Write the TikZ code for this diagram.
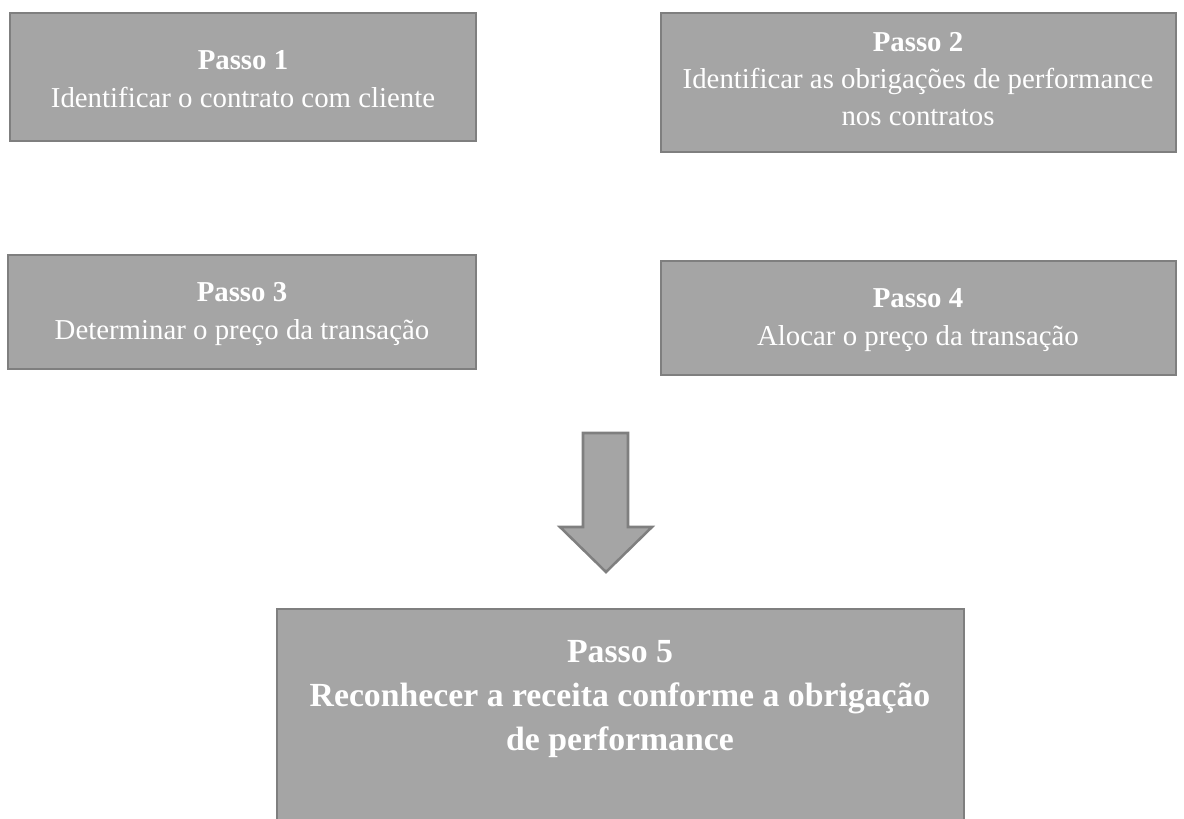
\documentclass[tikz,border=0pt]{standalone}
\usepackage{fontspec}
\setmainfont{Liberation Serif}
\usepackage{xcolor}
\usepackage{tikz}
\definecolor{stepfill}{RGB}{165,165,165}
\definecolor{stepline}{RGB}{127,127,127}

\begin{document}
\begin{tikzpicture}[x=0.025cm, y=-0.025cm,
    stepbox/.style={fill=stepfill, draw=stepline, line width=1.8pt},
    steptext/.style={text=white, align=center, font=\fontsize{20.5}{26.5}\selectfont},
    bigtext/.style={text=white, align=center, font=\fontsize{24}{31}\selectfont\bfseries}]
  \useasboundingbox (0,0) rectangle (1184,819);

  %% Top row
  \draw[stepbox] (10,13) rectangle (476,141);
  \node[steptext] (s1) at (243,79) {\textbf{Passo 1}\\Identificar o contrato com cliente};
  \draw[stepbox] (661,13) rectangle (1176,152);
  \node[steptext] (s2) at (918,79) {\textbf{Passo 2}\\Identificar as obrigações de performance\\nos contratos};

  %% Middle row
  \draw[stepbox] (8,255) rectangle (476,369);
  \node[steptext] (s3) at (242,314) {\textbf{Passo 3}\\Determinar o preço da transação};
  \draw[stepbox] (661,261) rectangle (1176,375);
  \node[steptext] (s4) at (918,320) {\textbf{Passo 4}\\Alocar o preço da transação};

  %% Block arrow down
  \draw[stepbox] (583,433) -- (628,433) -- (628,527) -- (652,527) -- (606,572)
    -- (560,527) -- (583,527) -- cycle;

  %% Final step
  \draw[stepbox] (277,609) rectangle (964,840);
  \node[bigtext] (s5) at (620,699) {Passo 5\\Reconhecer a receita conforme a obrigação\\de performance};
\end{tikzpicture}
\end{document}
